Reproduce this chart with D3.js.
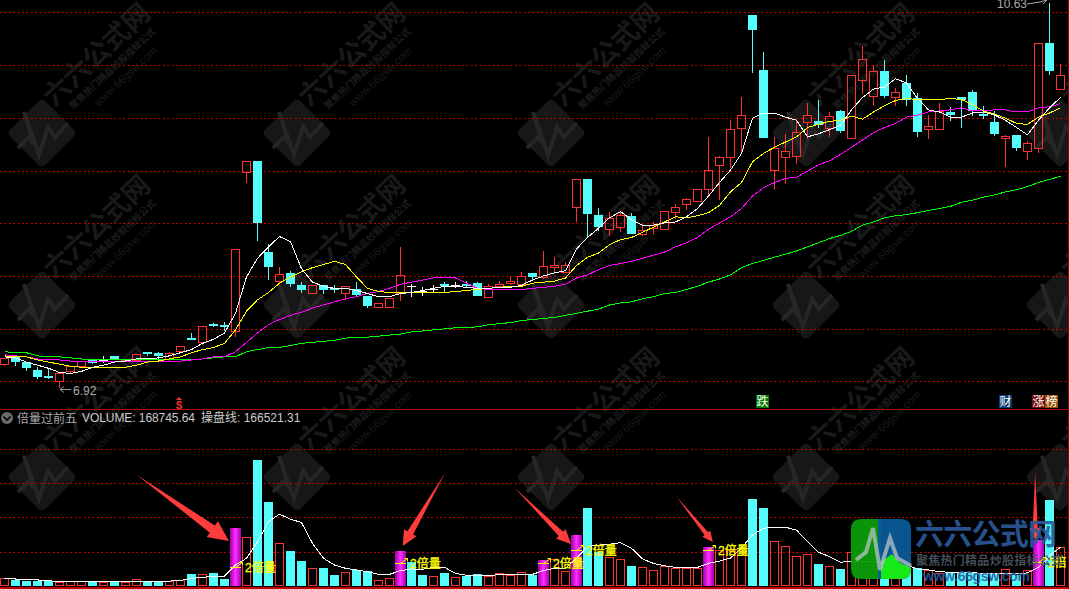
<!DOCTYPE html>
<html><head><meta charset="utf-8">
<style>html,body{margin:0;padding:0;background:#000;overflow:hidden}svg{display:block}
text{font-family:"Liberation Sans","Noto Sans CJK SC",sans-serif}</style>
<script src="https://cdn.jsdelivr.net/npm/d3@7/dist/d3.min.js"></script></head><body>
<script>
const open=[7.15,7.22,7.17,7.09,7.04,6.99,7.08,7.13,7.19,7.19,7.23,7.18,7.19,7.27,7.26,7.20,7.28,7.40,7.36,7.54,7.53,7.47,9.00,9.11,8.23,7.95,8.03,7.91,7.84,7.91,7.88,7.84,7.87,7.81,7.70,7.70,7.84,7.90,7.85,7.87,7.92,7.91,7.92,7.93,7.80,7.90,7.93,7.92,8.03,7.99,8.09,8.04,8.66,8.93,8.59,8.45,8.47,8.58,8.40,8.46,8.45,8.62,8.69,8.72,8.84,9.07,9.15,9.43,10.51,9.98,9.02,9.15,9.16,9.48,9.49,9.43,9.59,9.33,9.89,9.73,9.97,9.72,9.86,9.71,9.42,9.42,9.58,9.72,9.77,9.56,9.48,9.33,9.36,9.20,9.23,10.24,9.80];
const high=[7.21,7.24,7.17,7.12,7.10,7.06,7.13,7.18,7.19,7.23,7.23,7.19,7.25,7.27,7.27,7.27,7.32,7.45,7.52,7.55,7.56,8.26,9.11,9.11,8.31,8.09,8.05,7.94,7.91,7.91,7.91,7.90,7.94,7.81,7.74,7.79,8.28,7.92,7.89,7.91,7.94,7.94,7.95,7.94,7.92,7.95,7.99,8.04,8.03,8.24,8.18,8.13,8.93,8.93,8.65,8.62,8.63,8.61,8.50,8.52,8.63,8.69,8.75,8.84,9.34,9.16,9.50,9.72,10.51,10.16,9.34,9.37,9.50,9.67,9.70,9.58,9.60,9.94,10.22,10.03,10.08,9.81,9.94,9.76,9.55,9.67,9.63,9.72,9.79,9.64,9.59,9.36,9.36,9.30,10.24,10.63,10.04];
const low=[7.13,7.13,7.08,7.01,7.01,6.92,7.06,7.13,7.15,7.16,7.19,7.17,7.19,7.23,7.19,7.18,7.28,7.38,7.33,7.51,7.47,7.41,8.90,8.34,7.96,7.93,7.89,7.84,7.84,7.83,7.84,7.77,7.81,7.69,7.70,7.70,7.76,7.80,7.81,7.84,7.84,7.88,7.89,7.81,7.80,7.89,7.91,7.92,7.96,7.97,8.03,8.03,8.52,8.37,8.43,8.38,8.42,8.40,8.38,8.40,8.45,8.55,8.64,8.72,8.76,8.73,9.04,9.18,9.96,9.33,8.83,8.89,9.08,9.32,9.43,9.34,9.38,9.33,9.75,9.64,9.71,9.64,9.64,9.34,9.32,9.41,9.49,9.43,9.54,9.51,9.35,9.05,9.20,9.12,9.18,9.94,9.80];
const close=[7.21,7.17,7.11,7.03,7.03,7.06,7.13,7.18,7.16,7.19,7.19,7.19,7.25,7.26,7.23,7.26,7.32,7.39,7.52,7.53,7.52,8.26,9.11,8.51,8.09,8.02,7.92,7.86,7.91,7.86,7.87,7.90,7.82,7.71,7.74,7.79,8.01,7.90,7.85,7.87,7.91,7.91,7.91,7.81,7.90,7.92,7.95,8.00,7.99,8.10,8.11,8.11,8.93,8.60,8.47,8.56,8.59,8.40,8.44,8.49,8.63,8.66,8.74,8.84,9.02,9.15,9.42,9.55,10.37,9.33,9.23,9.20,9.39,9.55,9.45,9.54,9.40,9.94,10.09,9.97,9.73,9.77,9.70,9.39,9.44,9.59,9.55,9.70,9.59,9.55,9.37,9.35,9.23,9.28,10.24,9.97,9.94];
const maWhite=[7.22,7.21,7.17,7.14,7.11,7.07,7.06,7.08,7.12,7.14,7.17,7.18,7.20,7.20,7.21,7.23,7.26,7.29,7.35,7.39,7.45,7.64,7.99,8.17,8.28,8.38,8.33,8.07,7.94,7.90,7.88,7.88,7.86,7.83,7.80,7.80,7.83,7.84,7.86,7.88,7.90,7.90,7.89,7.88,7.88,7.89,7.89,7.91,7.96,8.00,8.03,8.05,8.26,8.37,8.46,8.56,8.62,8.54,8.49,8.49,8.51,8.52,8.57,8.65,8.77,8.90,9.02,9.18,9.52,9.57,9.57,9.53,9.50,9.34,9.37,9.41,9.45,9.60,9.72,9.80,9.82,9.90,9.86,9.71,9.60,9.58,9.53,9.53,9.57,9.58,9.55,9.50,9.43,9.36,9.50,9.62,9.72];
const maYellow=[7.23,7.22,7.22,7.19,7.17,7.15,7.13,7.12,7.12,7.12,7.12,7.12,7.14,7.17,7.18,7.20,7.22,7.26,7.29,7.31,7.35,7.48,7.66,7.77,7.84,7.93,7.99,8.04,8.08,8.11,8.14,8.11,7.99,7.88,7.85,7.84,7.84,7.84,7.84,7.84,7.84,7.85,7.86,7.87,7.88,7.89,7.90,7.90,7.93,7.94,7.95,7.98,8.10,8.18,8.22,8.30,8.35,8.37,8.42,8.47,8.52,8.57,8.56,8.58,8.61,8.68,8.81,8.90,9.10,9.18,9.24,9.29,9.34,9.43,9.46,9.49,9.50,9.54,9.51,9.58,9.64,9.69,9.71,9.70,9.70,9.70,9.71,9.70,9.65,9.59,9.56,9.52,9.47,9.46,9.53,9.57,9.62];
const maMagenta=[7.24,7.23,7.22,7.20,7.19,7.19,7.18,7.18,7.18,7.18,7.18,7.18,7.18,7.18,7.18,7.18,7.18,7.19,7.20,7.22,7.22,7.27,7.36,7.45,7.53,7.58,7.62,7.65,7.69,7.72,7.75,7.78,7.80,7.83,7.85,7.88,7.92,7.94,7.96,7.98,7.99,7.98,7.93,7.88,7.87,7.87,7.87,7.87,7.88,7.89,7.90,7.92,7.98,8.01,8.06,8.10,8.12,8.14,8.17,8.20,8.23,8.28,8.32,8.37,8.45,8.51,8.57,8.65,8.77,8.85,8.90,8.94,8.95,9.01,9.07,9.11,9.17,9.24,9.31,9.38,9.43,9.47,9.53,9.55,9.58,9.59,9.60,9.62,9.59,9.59,9.60,9.60,9.58,9.58,9.62,9.63,9.66];
const maGreen=[7.27,7.26,7.26,7.23,7.22,7.22,7.21,7.20,7.19,7.19,7.19,7.19,7.19,7.19,7.19,7.19,7.19,7.19,7.20,7.21,7.22,7.22,7.27,7.29,7.31,7.31,7.33,7.35,7.36,7.37,7.38,7.40,7.41,7.41,7.42,7.43,7.44,7.46,7.47,7.48,7.49,7.50,7.50,7.51,7.53,7.54,7.55,7.57,7.58,7.59,7.60,7.62,7.64,7.66,7.68,7.72,7.74,7.75,7.78,7.80,7.83,7.84,7.87,7.90,7.94,7.97,8.01,8.08,8.12,8.15,8.18,8.21,8.24,8.28,8.32,8.36,8.39,8.43,8.49,8.52,8.56,8.58,8.59,8.61,8.63,8.65,8.67,8.71,8.73,8.76,8.78,8.81,8.83,8.86,8.90,8.93,8.96];
// volume, thousands
const volume=[36,26,21,21,23,18,23,23,18,18,18,16,29,18,18,23,26,51,50,56,31,249,209,541,360,183,151,107,76,77,47,59,67,64,24,33,150,103,47,42,56,37,44,50,44,54,48,59,48,112,115,63,219,335,147,123,115,86,80,67,86,79,79,77,167,154,154,163,373,335,192,170,129,136,94,85,73,145,137,90,94,67,60,76,69,57,57,57,57,50,50,72,47,69,197,369,168.75];
const volMA=[33,30,29,26,23,18,18,18,18,18,18,18,18,18,18,21,24,33,37,42,42,90,119,190,276,308,287,272,183,119,90,76,69,61,50,50,66,73,72,80,80,54,46,46,46,48,48,50,50,66,76,76,119,169,175,179,186,162,116,97,87,80,80,80,97,107,120,163,219,248,252,252,240,190,145,126,102,106,106,106,106,103,90,73,69,61,59,59,57,54,54,54,54,56,80,130,166.52];
const signalIdx=[21,36,49,52,64,94];
const signalLevel=[83,99,99,153,153,103];
const priceGrid=[6.987,7.488,7.999,8.51,9.015,9.526,10.037,10.542];
const volGrid=[147,295,442,589];
const arrows=[[12.05,476,20.4,193],[40.05,485,36.2,172],[46.4,420,51.5,180],[61.05,386,64.4,189],[93.7,485,93.7,197]];

const W=1069,H=589,N=open.length;
const svg=d3.select("body").append("svg").attr("width",W).attr("height",H).style("background","#000");
const x=d3.scaleLinear().domain([0,96]).range([4.5,1060.5]);
const yP=d3.scaleLinear().domain([6.92,10.63]).range([388,3]);
const yV=d3.scaleLinear().domain([0,589]).range([586,448.7]);
const RED="#ff3232",CYAN="#54fcfc",GRID="#c00000";
const cjk='"Noto Sans CJK SC",sans-serif';

// gradient
const grad=svg.append("defs").append("linearGradient").attr("id","mg");
[[0,"#a000a8"],[.5,"#ff2cff"],[1,"#a000a8"]].forEach(s=>grad.append("stop").attr("offset",s[0]).attr("stop-color",s[1]));
svg.select("defs").append("clipPath").attr("id","clipR").append("rect").attr("width",1066).attr("height",H);

// watermark tiles
const wmX=[42,297,551,806,1060],wmY=[133,305,477];
const wm=svg.append("g");
wmY.forEach(cy=>wmX.forEach(cx=>{
  const g=wm.append("g").attr("transform",`translate(${cx},${cy})`);
  g.append("rect").attr("x",-25).attr("y",-25).attr("width",50).attr("height",50).attr("rx",5)
    .attr("transform","rotate(45)").attr("fill","#171717");
  g.append("path").attr("d","M-24,15 L-13,4 L-8,11 L-18,-21 L-3,22 L6,-6 L13,4 L26,-10").attr("fill","none").attr("stroke","#262626").attr("stroke-width",4);
  g.append("text").attr("transform","translate(56,-77) rotate(-43)").attr("text-anchor","middle").attr("dominant-baseline","middle")
    .attr("font-size",27).attr("font-weight",700).attr("fill","#191919").style("font-family",cjk).text("六六公式网");
  g.append("text").attr("transform","translate(71,-64) rotate(-43)").attr("text-anchor","middle").attr("dominant-baseline","middle")
    .attr("font-size",9.5).attr("font-weight",700).attr("fill","#1d1d1d").style("font-family",cjk).text("聚焦热门精品炒股指标公式");
  g.append("text").attr("transform","translate(84,-56) rotate(-43)").attr("text-anchor","middle").attr("dominant-baseline","middle")
    .attr("font-size",11).attr("fill","#1a1a1a").text("www.66gsw.com");
}));

// grids and separators
const grid=svg.append("g").attr("stroke",GRID).attr("stroke-dasharray","2 2.4").attr("shape-rendering","crispEdges");
grid.selectAll("line.p").data(priceGrid).join("line").attr("class","p").attr("x1",0).attr("x2",W).attr("y1",d=>Math.round(yP(d))+.5).attr("y2",d=>Math.round(yP(d))+.5);
grid.selectAll("line.v").data(volGrid).join("line").attr("class","v").attr("x1",0).attr("x2",W).attr("y1",d=>Math.round(yV(d))+.5).attr("y2",d=>Math.round(yV(d))+.5);
svg.append("rect").attr("x",0).attr("y",409).attr("width",W).attr("height",1).attr("fill","#b00000");
svg.append("rect").attr("x",0).attr("y",587).attr("width",W).attr("height",2).attr("fill","#c00000");
svg.append("rect").attr("x",1068).attr("y",0).attr("width",1).attr("height",H).attr("fill","#900000");

// candles
const idx=d3.range(N);
const cG=svg.append("g").attr("shape-rendering","crispEdges");
const col=i=>close[i]>open[i]?RED:close[i]<open[i]?CYAN:"#ffffff";
idx.forEach(i=>{
  const c=Math.floor(x(i))+.5, top=Math.round(yP(Math.max(open[i],close[i]))), bot=Math.round(yP(Math.min(open[i],close[i])));
  const hi=yP(high[i]),lo=yP(low[i]);
  cG.append("line").attr("x1",c).attr("x2",c).attr("y1",hi).attr("y2",top).attr("stroke",col(i));
  cG.append("line").attr("x1",c).attr("x2",c).attr("y1",bot).attr("y2",lo).attr("stroke",col(i));
  if(close[i]>open[i]) cG.append("rect").attr("x",c-4).attr("y",top+.5).attr("width",8).attr("height",Math.max(1,bot-top)).attr("fill","none").attr("stroke",RED);
  else if(close[i]<open[i]) cG.append("rect").attr("x",c-4.5).attr("y",top).attr("width",9).attr("height",Math.max(2,bot-top)).attr("fill",CYAN);
  else cG.append("rect").attr("x",c-4.5).attr("y",top).attr("width",9).attr("height",1).attr("fill","#fff");
});

// price moving averages
const pl=d3.line().x((d,i)=>x(i)).y(d=>yP(d));
[[maGreen,"#00ff00"],[maMagenta,"#ff00ff"],[maYellow,"#ffff00"],[maWhite,"#ffffff"]].forEach(s=>
  svg.append("path").attr("d",pl(s[0])).attr("fill","none").attr("stroke",s[1]).attr("stroke-width",1).attr("shape-rendering","crispEdges"));

// price extreme labels
svg.append("path").attr("d","M60,389.5H71M60,389.5l4,-3M60,389.5l4,3").attr("stroke","#999").attr("fill","none");
svg.append("text").attr("x",73).attr("y",395).attr("font-size",12).attr("fill","#aaa").text("6.92");
svg.append("text").attr("x",997).attr("y",8).attr("font-size",12).attr("fill","#aaa").text("10.63");
svg.append("path").attr("d","M1027,4L1040,2L1047,0M1041,-1L1047,0L1043,4").attr("stroke","#aaa").attr("fill","none");

// event tags
svg.append("path").attr("d","M179,397l3,3h-6z").attr("fill",RED);
svg.append("text").attr("x",179).attr("y",408.5).attr("text-anchor","middle").attr("font-size",10).attr("font-weight",700).attr("fill",RED).text("S");
[["跌",756,"#007a00"],["财",999,"#0a3a6e"],["涨",1032,"#7a0c0c"],["榜",1045,"#97500a"]].forEach(t=>{
  svg.append("rect").attr("x",t[1]).attr("y",395).attr("width",13).attr("height",13).attr("fill",t[2]);
  svg.append("text").attr("x",t[1]+.5).attr("y",406).attr("font-size",12).attr("fill","#fff").style("font-family",cjk).text(t[0]);
});

// header
svg.append("circle").attr("cx",7).attr("cy",418).attr("r",6).attr("fill","#6a6a6a");
svg.append("path").attr("d","M3.5,416.5L7,420L10.5,416.5").attr("fill","none").attr("stroke","#000").attr("stroke-width",1.6);
svg.append("text").attr("x",17).attr("y",422.5).attr("font-size",12).attr("fill","#aaa").style("font-family",cjk).text("倍量过前五");
svg.append("text").attr("x",82).attr("y",422).attr("font-size",12).attr("fill","#ccc").attr("textLength",113).text("VOLUME: 168745.64");
svg.append("text").attr("x",201).attr("y",422).attr("font-size",12).attr("fill","#ccc").style("font-family",'"Liberation Sans","Noto Sans CJK SC"').text("操盘线: 166521.31");

// volume bars
const vG=svg.append("g").attr("shape-rendering","crispEdges");
idx.forEach(i=>{
  const c=Math.floor(x(i))+.5, top=Math.round(yV(volume[i])), h=586-top;
  if(signalIdx.includes(i)) vG.append("rect").attr("x",c-5.5).attr("y",top).attr("width",11).attr("height",h).attr("fill","url(#mg)");
  else{
    const up=close[i]>open[i]||(close[i]===open[i]&&close[i]>=close[i-1]);
    if(up) vG.append("rect").attr("x",c-4).attr("y",top+.5).attr("width",8).attr("height",h-1).attr("fill","none").attr("stroke",RED);
    else vG.append("rect").attr("x",c-4.5).attr("y",top).attr("width",9).attr("height",h).attr("fill",CYAN);
  }
});

// volume moving average
svg.append("path").attr("d",d3.line().x((d,i)=>x(i)).y(d=>yV(d))(volMA)).attr("fill","none").attr("stroke","#fff").attr("stroke-width",1).attr("shape-rendering","crispEdges");

// callout arrows
arrows.forEach(a=>{
  const tx=x(a[0]),ty=yV(a[1]),px=x(a[2]),py=yV(a[3]);
  const len=Math.hypot(px-tx,py-ty),ux=(px-tx)/len,uy=(py-ty)/len,nx=-uy,ny=ux;
  const hl=len*.18,hw=len*.085,sw=hw*.45,bx=px-ux*hl,by=py-uy*hl;
  svg.append("polygon").attr("fill","#ff3c3c").attr("points",[
    [tx,ty],[bx+nx*sw,by+ny*sw],[bx+nx*hw,by+ny*hw],[px,py],[bx-nx*hw,by-ny*hw],[bx-nx*sw,by-ny*sw]].map(p=>p.join(",")).join(" "));
});

// signal markers
const sG=svg.append("g").attr("clip-path","url(#clipR)");
signalIdx.forEach((si,k)=>{
  const c=x(si),l=Math.round(yV(signalLevel[k]))+.5;
  sG.append("line").attr("x1",c-5.5).attr("x2",c+5.5).attr("y1",l).attr("y2",l).attr("stroke","#ffff00").attr("shape-rendering","crispEdges");
  sG.append("path").attr("d",`M${c},${l}L${c+7},${l-5}M${c+7},${l-5}l-3,0M${c+7},${l-5}l0,3`).attr("stroke","#ffff00").attr("fill","none");
  sG.append("text").attr("x",c+9.5).attr("y",l+4).attr("font-size",12).attr("fill","#ffff00").attr("stroke","#ffff00").attr("stroke-width",.3).text("2倍量");
});

// corner logo
const lg=svg.append("g");
lg.append("path").attr("d","M861,519H881V579H861Q851,579 851,569V529Q851,519 861,519Z").attr("fill","#0a9c0a").attr("opacity",.95);
lg.append("path").attr("d","M878,519H901Q911,519 911,529V569Q911,579 901,579H878Z").attr("fill","#0a5a98").attr("opacity",.95);
lg.append("path").attr("d","M881,562L892,554L900,563L911,568V570Q911,579 901,579H881Z").attr("fill","#18e818");
lg.append("path").attr("d","M856,560L866,552L873,528L880,570L890,538L897,558L911,566").attr("fill","none").attr("stroke","#b8c4c4").attr("stroke-width",4).attr("opacity",.75);
lg.append("text").attr("x",915).attr("y",545).attr("font-size",29).attr("font-weight",700).attr("fill","#2a5a9c").attr("fill-opacity",.92).attr("textLength",142).style("font-family",cjk).text("六六公式网");
lg.append("text").attr("x",916).attr("y",565).attr("font-size",12).attr("font-weight",700).attr("fill","#4a5560").attr("fill-opacity",.92).attr("textLength",147).style("font-family",cjk).text("聚焦热门精品炒股指标公式");
lg.append("text").attr("x",923).attr("y",581).attr("font-size",14).attr("font-weight",700).attr("fill","#2a5a9c").attr("fill-opacity",.9).attr("textLength",107).text("www.66gsw.com");
</script></body></html>
